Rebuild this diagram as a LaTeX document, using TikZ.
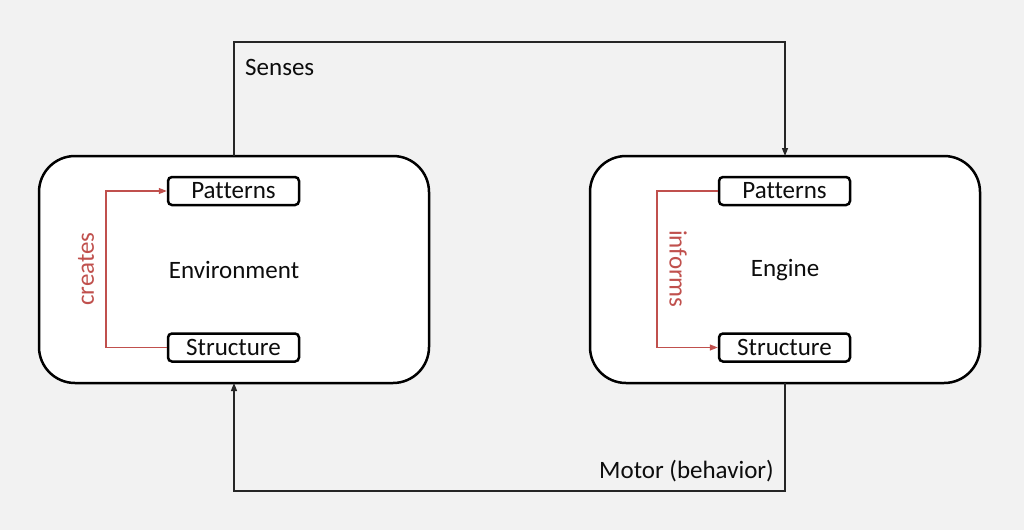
\documentclass[tikz,border=0pt]{standalone}
\usepackage{fontspec}
\setmainfont{Carlito}[Ligatures=CommonOff]
\usetikzlibrary{arrows.meta}
\definecolor{bg}{HTML}{F2F2F2}
\definecolor{redline}{HTML}{C0504D}
\definecolor{txt}{HTML}{0D0D0D}
\begin{document}
\begin{tikzpicture}[x=1pt,y=-1pt,
  bigbox/.style={draw=black,line width=2.5pt,fill=white,rounded corners=36pt,minimum width=390pt,minimum height=227pt,inner sep=0pt},
  smallbox/.style={draw=black,line width=2.5pt,fill=white,rounded corners=4pt,minimum width=131pt,minimum height=28pt,inner sep=0pt,font=\fontsize{25}{28}\selectfont,text=txt},
  lbl/.style={font=\fontsize{25}{28}\selectfont,text=txt,inner sep=0pt},
  rlbl/.style={font=\fontsize{25}{28}\selectfont,text=redline,inner sep=0pt},
  conn/.style={draw=black!85,line width=1.3pt,-{Triangle[length=8pt,width=6pt]}},
  rconn/.style={draw=redline,line width=1.3pt,-{Triangle[length=8pt,width=6pt]}}]
\fill[bg] (0,0) rectangle (1024,530);
\useasboundingbox (0,0) rectangle (1024,530);
\node[bigbox] (env) at (234,269.5) {};
\node[bigbox] (eng) at (785,269.5) {};
\node[lbl] (envt) at (234,270) {Environment};
\node[lbl] (engt) at (785,270) {Engine};
\node[smallbox] (lp) at (233.5,191) {Patterns};
\node[smallbox] (ls) at (233.5,347.5) {Structure};
\node[smallbox] (rp) at (784.5,191) {Patterns};
\node[smallbox] (rs) at (784.5,347.5) {Structure};
\coordinate (lt) at (234,156);
\coordinate (rt) at (785,156);
\coordinate (lb) at (234,383);
\coordinate (rb) at (785,383);
\draw[conn] (lt) -- (234,42) -- (785,42) -- (rt);
\draw[conn] (rb) -- (785,491) -- (234,491) -- (lb);
\node[lbl,anchor=west] (senses) at (245,67) {Senses};
\node[lbl,anchor=east] (motor) at (774,471) {Motor (behavior)};
\draw[rconn] (ls.west) -- (106,347.5) -- (106,191) -- (lp.west);
\draw[rconn] (rp.west) -- (657,191) -- (657,347.5) -- (rs.west);
\node[rlbl,rotate=90] (creates) at (86,269) {creates};
\node[rlbl,rotate=-90] (informs) at (678,269) {informs};
\end{tikzpicture}
\end{document}
